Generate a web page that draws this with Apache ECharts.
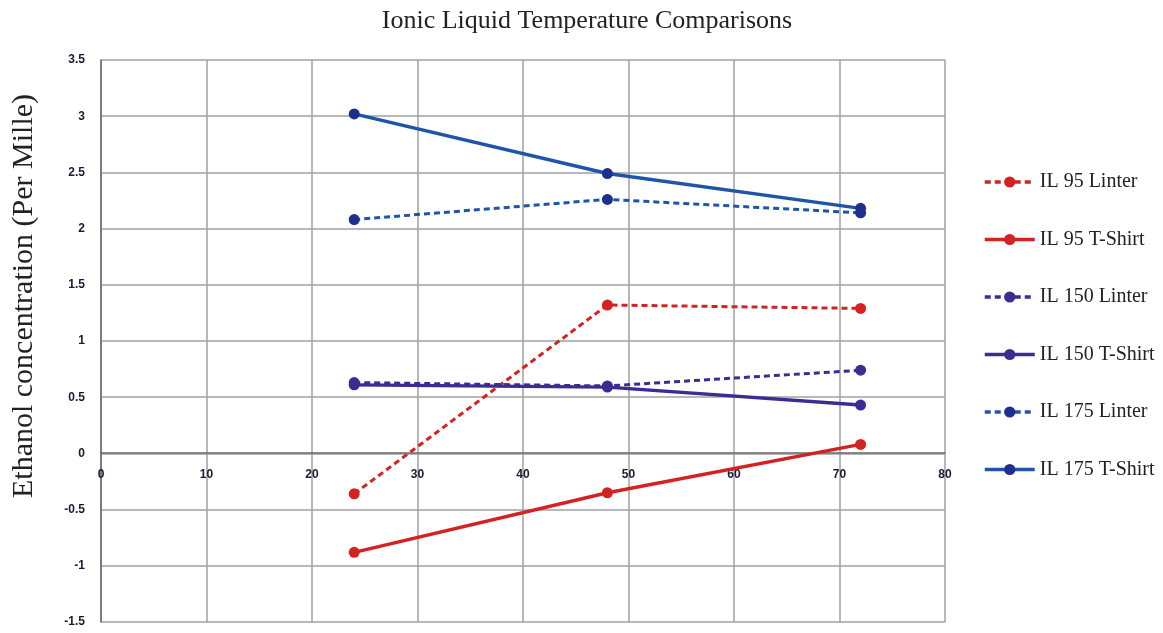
<!DOCTYPE html>
<html><head><meta charset="utf-8">
<script src="https://cdn.jsdelivr.net/npm/echarts@6/dist/echarts.min.js"></script>
<style>html,body{margin:0;padding:0;background:#fff}#c{width:1163px;height:633px}</style>
</head><body><div id="c"></div>
<script>
const hours = [24, 48, 72];
const il95Linter = [-0.36, 1.32, 1.29];
const il95TShirt = [-0.88, -0.35, 0.08];
const il150Linter = [0.63, 0.60, 0.74];
const il150TShirt = [0.61, 0.59, 0.43];
const il175Linter = [2.08, 2.26, 2.14];
const il175TShirt = [3.02, 2.49, 2.18];
const seriesNames = ['IL 95 Linter','IL 95 T-Shirt','IL 150 Linter','IL 150 T-Shirt','IL 175 Linter','IL 175 T-Shirt'];
const yAxisTitle = 'Ethanol concentration (Per Mille)';

const red = '#d42222', purple = '#3d2b94', blue = '#1f55a8', navy = '#1f2f8e';
function mk(name, vals, color, mcolor, dashed){
  return {
    name, type:'line', data: hours.map((h,i)=>[h, vals[i]]),
    symbol:'circle', symbolSize: 11,
    lineStyle:{color, width: dashed?3:3.4, type: dashed?[6,4]:'solid'},
    itemStyle:{color: mcolor},
    emphasis:{disabled:true}, z: 3
  };
}
const chart = echarts.init(document.getElementById('c'), null, {renderer:'canvas'});
chart.setOption({
  animation:false,
  backgroundColor:'#fff',
  title:{text:'Ionic Liquid Temperature Comparisons', left: 582, top: 3, textAlign:'center',
    textStyle:{fontFamily:'Liberation Serif', fontWeight:'normal', fontSize:26, color:'#222'}},
  graphic:[{type:'text', x:24, y:296, rotation:Math.PI/2,
    style:{text:yAxisTitle, font:'30px "Liberation Serif"', fill:'#222', align:'center', verticalAlign:'middle'}}],
  grid:{left:101, right:218, top:60, bottom:11},
  legend:{orient:'vertical', left:978, top:167, itemGap:37.5, itemWidth:50, itemHeight:14,
    data: seriesNames, lineStyle:{width:3.5},
    textStyle:{fontFamily:'Liberation Serif', fontSize:20, color:'#222'}},
  xAxis:{type:'value', min:0, max:80, interval:10, position:'bottom', offset:-169,
    axisLine:{show:true, onZero:false, lineStyle:{color:'#6a6a6a', width:1.5}},
    axisTick:{show:false},
    axisLabel:{margin:16, fontFamily:'Liberation Sans', fontWeight:'bold', fontSize:12, color:'#1a1a33'},
    splitLine:{show:true, lineStyle:{color:'#a0a0a0', width:1.5}}},
  yAxis:{type:'value', min:-1.5, max:3.5, interval:0.5,
    axisLine:{show:true, onZero:false, lineStyle:{color:'#6a6a6a', width:1.5}},
    axisTick:{show:false},
    axisLabel:{margin:16, fontFamily:'Liberation Sans', fontWeight:'bold', fontSize:12, color:'#1a1a33'},
    splitLine:{show:true, lineStyle:{color:'#a0a0a0', width:1.5}}},
  series:[
    mk(seriesNames[0], il95Linter, red, red, true),
    mk(seriesNames[1], il95TShirt, red, red, false),
    mk(seriesNames[2], il150Linter, purple, purple, true),
    mk(seriesNames[3], il150TShirt, purple, purple, false),
    mk(seriesNames[4], il175Linter, blue, navy, true),
    mk(seriesNames[5], il175TShirt, blue, navy, false)
  ]
});
</script></body></html>
